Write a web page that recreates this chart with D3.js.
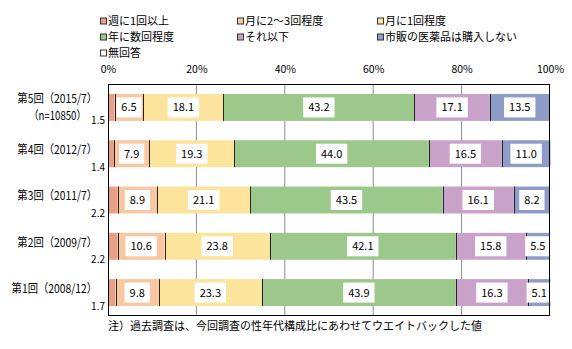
<!DOCTYPE html>
<html><head><meta charset="utf-8">
<script src="https://cdn.jsdelivr.net/npm/d3@7"></script>
<style>body{margin:0;background:#fff}svg{display:block}text{font-family:"Noto Sans CJK JP","Noto Sans",sans-serif}</style>
</head><body>
<svg id="c" width="572" height="349"></svg>
<script>
const categories = ["第5回（2015/7）","第4回（2012/7）","第3回（2011/7）","第2回（2009/7）","第1回（2008/12）"];
const subLabels = ["（n=10850）","","","",""];
const seriesNames = ["週に1回以上","月に2～3回程度","月に1回程度","年に数回程度","それ以下","市販の医薬品は購入しない","無回答"];
const seriesColors = ["#E8A088","#F8C8A0","#FDE49C","#9CC88C","#C8A2C8","#8F9CC8","#FFFFFF"];
const weekly   = [1.5, 1.4, 2.2, 2.2, 1.7];
const monthly23= [6.5, 7.9, 8.9, 10.6, 9.8];
const monthly1 = [18.1, 19.3, 21.1, 23.8, 23.3];
const yearly   = [43.2, 44.0, 43.5, 42.1, 43.9];
const less     = [17.1, 16.5, 16.1, 15.8, 16.3];
const noBuy    = [13.5, 11.0, 8.2, 5.5, 5.1];
const noAnswer = [0.1, 0, 0, 0, 0];
const tickValues = [0,20,40,60,80,100];
const note = "注）過去調査は、今回調査の性年代構成比にあわせてウエイトバックした値";

const series = [weekly, monthly23, monthly1, yearly, less, noBuy, noAnswer];
const svg = d3.select("#c");
const x = d3.scaleLinear().domain([0,100]).range([108,550]);
const y = d3.scaleBand().domain(categories).range([84,316]).paddingInner(0.418).paddingOuter(0.215);

// legend
const legCols = [100, 237, 377], legRows = [21, 37, 53];
seriesNames.forEach((n,i)=>{
  const g = svg.append("g").attr("transform",`translate(${legCols[i%3]},${legRows[Math.floor(i/3)]})`);
  g.append("rect").attr("x",0.5).attr("y",-3).attr("width",6).attr("height",6)
   .attr("fill",seriesColors[i]).attr("stroke","#333").attr("stroke-width",1);
  g.append("text").attr("x",8).attr("y",0).attr("dy","0.36em").attr("font-size",11).text(n);
});

// axis
const ax = svg.append("g").attr("transform","translate(0,76)")
  .call(d3.axisTop(x).tickValues(tickValues).tickSize(0).tickFormat(d=>d+"%"));
ax.select(".domain").remove();
ax.selectAll("text").attr("font-size",10.5).attr("fill","#000").attr("font-family","Noto Sans CJK JP");

// grid
svg.append("g").selectAll("line").data(tickValues.slice(1,-1)).join("line")
  .attr("x1",d=>x(d)).attr("x2",d=>x(d)).attr("y1",84).attr("y2",316)
  .attr("stroke","#8c8c8c").attr("stroke-width",1);

// stacked bars
const stack = categories.map((c,ci)=>{
  let acc = 0;
  return series.map((s,si)=>{ const v = s[ci]; const o = {c, si, x0:acc, x1:acc+v, v}; acc += v; return o; });
});
const rows = svg.append("g").selectAll("g").data(stack).join("g");
rows.selectAll("rect").data(d=>d).join("rect")
  .attr("x",d=>x(d.x0)).attr("width",d=>Math.max(0,x(d.x1)-x(d.x0)))
  .attr("y",d=>y(d.c)).attr("height",y.bandwidth())
  .attr("fill",d=>seriesColors[d.si]);
rows.selectAll("line").data(d=>d.slice(0,5)).join("line")
  .attr("x1",d=>Math.round(x(d.x1))+0.5).attr("x2",d=>Math.round(x(d.x1))+0.5)
  .attr("y1",d=>y(d.c)).attr("y2",d=>y(d.c)+y.bandwidth())
  .attr("stroke","#222").attr("stroke-width",1);

// value labels inside
const inside = stack.flat().filter(d=>d.si>=1 && d.si<=5);
const lab = svg.append("g").selectAll("g").data(inside).join("g")
  .attr("transform",d=>`translate(${(x(d.x0)+x(d.x1))/2},${y(d.c)+y.bandwidth()/2})`);
lab.append("text").attr("text-anchor","middle").attr("dy","0.36em").attr("font-size",11)
  .text(d=>d.v.toFixed(1));
lab.each(function(){
  const g = d3.select(this), bb = g.select("text").node().getBBox();
  g.insert("rect","text").attr("x",bb.x-5).attr("y",-10).attr("width",bb.width+10).attr("height",20).attr("fill","#fff");
});

// small values outside (weekly)
svg.append("g").selectAll("text").data(stack.map(r=>r[0])).join("text")
  .attr("x",105).attr("y",d=>y(d.c)+y.bandwidth()).attr("dy","0.36em")
  .attr("text-anchor","end").attr("font-size",10).text(d=>d.v.toFixed(1));

// category labels (horizontally condensed via transform)
svg.append("g").selectAll("text").data(categories).join("text")
  .attr("transform",(d,i)=>`translate(97,${y(d)+y.bandwidth()/2-(subLabels[i]?9:4)}) scale(0.86,1)`)
  .attr("dy","0.36em").attr("text-anchor","end").attr("font-size",12).text(d=>d);
svg.append("g").selectAll("text").data(categories.map((c,i)=>({c,s:subLabels[i]})).filter(d=>d.s)).join("text")
  .attr("transform",d=>`translate(86,${y(d.c)+y.bandwidth()/2+8}) scale(0.8,1)`)
  .attr("dy","0.36em").attr("text-anchor","end").attr("font-size",12).text(d=>d.s);

// frame
svg.append("rect").attr("x",108.5).attr("y",84.5).attr("width",441).attr("height",231)
  .attr("fill","none").attr("stroke","#000").attr("stroke-width",1);

// note
svg.append("text").attr("x",108).attr("y",326).attr("dy","0.36em").attr("font-size",11).text(note);
</script>
</body></html>
